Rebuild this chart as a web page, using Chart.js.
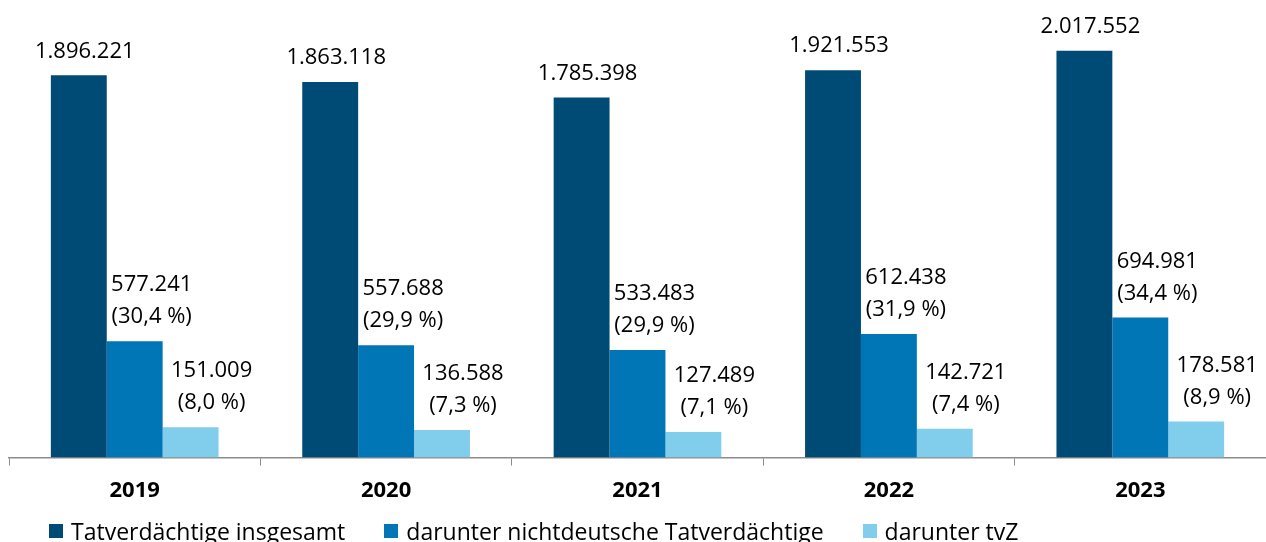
<!DOCTYPE html>
<html>
<head>
<meta charset="utf-8">
<script src="https://cdn.jsdelivr.net/npm/chart.js@4.4.1/dist/chart.umd.min.js"></script>
<style>
    html, body { margin: 0; padding: 0; background: #fff; }
    #wrap { position: relative; width: 1266px; height: 542px; }
    #legend {
        position: absolute; left: 49px; top: 515px;
        display: flex; gap: 39px;
        font-family: "Open Sans", "Noto Sans", sans-serif; font-size: 23px; color: #000;
        line-height: 32px; white-space: nowrap;
    }
    #legend span.item { display: flex; align-items: center; }
    #legend i { display: inline-block; width: 14px; height: 14px; margin-right: 8px; }
</style>
</head>
<body>
<div id="wrap">
    <canvas id="tvChart"></canvas>
    <div id="legend"></div>
</div>
<script>
const years = ['2019', '2020', '2021', '2022', '2023'];
const seriesNames = ['Tatverdächtige insgesamt', 'darunter nichtdeutsche Tatverdächtige', 'darunter tvZ'];
const totalValues = [1896221, 1863118, 1785398, 1921553, 2017552];
const foreignValues = [577241, 557688, 533483, 612438, 694981];
const tvzValues = [151009, 136588, 127489, 142721, 178581];
const colors = ['#004b76', '#0076b6', '#80cdec'];

const FONT = '"Open Sans", "Noto Sans", sans-serif';

// 1.896.221 style
function fmt(n) {
    return String(n).replace(/\B(?=(\d{3})+(?!\d))/g, '.');
}
function pct(part, whole) {
    return '(' + (part / whole * 100).toFixed(1).replace('.', ',') + ' %)';
}

// labels above bars, last line sits 24px above the bar top
const barLabels = {
    id: 'barLabels',
    afterDatasetsDraw(chart) {
        const ctx = chart.ctx;
        const shift = [6, 17, 21];
        ctx.save();
        ctx.font = '22px ' + FONT;
        ctx.fillStyle = '#000';
        ctx.textAlign = 'center';
        ctx.textBaseline = 'middle';
        chart.data.datasets.forEach((ds, di) => {
            chart.getDatasetMeta(di).data.forEach((bar, i) => {
                let lines = [fmt(ds.data[i])];
                if (di > 0) lines.push(pct(ds.data[i], totalValues[i]));
                const x = bar.x + shift[di];
                lines.reverse().forEach((t, k) => {
                    ctx.fillText(t, x, bar.y - 24 - k * 32);
                });
            });
        });
        ctx.restore();
    }
};

const chart = new Chart(document.getElementById('tvChart'), {
    type: 'bar',
    data: {
        labels: years,
        datasets: [
            { label: seriesNames[0], data: totalValues, backgroundColor: colors[0] },
            { label: seriesNames[1], data: foreignValues, backgroundColor: colors[1] },
            { label: seriesNames[2], data: tvzValues, backgroundColor: colors[2] }
        ]
    },
    options: {
        responsive: true,
        maintainAspectRatio: false,
        animation: false,
        layout: { padding: { left: 9, right: 0, top: 14, bottom: 26 } },
        datasets: { bar: { categoryPercentage: 0.667, barPercentage: 1.0 } },
        scales: {
            x: {
                grid: { display: true, drawOnChartArea: false, drawTicks: true, tickLength: 8, color: '#8c8c8c', offset: true },
                border: { display: true, color: '#8c8c8c', width: 1.5 },
                ticks: { color: '#000', font: { family: FONT, size: 22, weight: 'bold' }, padding: 12 }
            },
            y: { display: false, min: 0, max: 2200000 }
        },
        plugins: {
            legend: { display: false },
            tooltip: { enabled: false }
        }
    },
    plugins: [barLabels]
});

// legend below the axis
const legendEl = document.getElementById('legend');
seriesNames.forEach((name, i) => {
    const item = document.createElement('span');
    item.className = 'item';
    item.innerHTML = `<i style="background:${colors[i]}"></i>${name}`;
    legendEl.appendChild(item);
});
</script>
</body>
</html>
